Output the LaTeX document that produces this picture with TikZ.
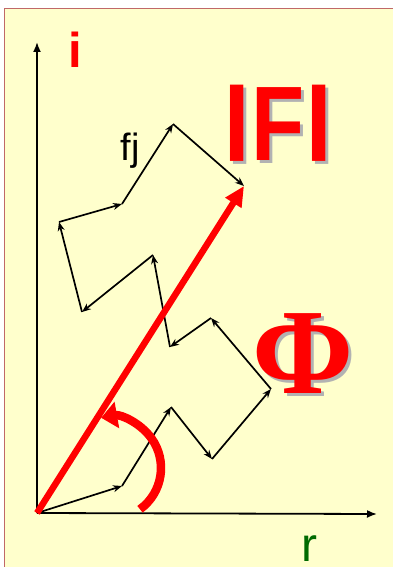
\documentclass[tikz,border=0pt]{standalone}
\usepackage{fontspec}
\setmainfont{Liberation Serif}
\setsansfont{Liberation Sans}
\usetikzlibrary{arrows.meta,calc}
\definecolor{paper}{HTML}{FFFFCC}
\definecolor{frame}{HTML}{C06868}
\definecolor{hot}{HTML}{FF0000}
\definecolor{leaf}{HTML}{006A00}
\tikzset{axis/.style={line width=1.8pt,-{Latex[length=10pt,width=8pt]}},
  hop/.style={line width=1.7pt,line join=round,-{Stealth[length=9pt,width=7pt]}},
  shade/.style={black!30}}
\newcommand{\fbar}{\raisebox{0.16em}{\scalebox{1.2}[0.76]{|}}}
\newcommand{\castlabel}[4]{%
  \node[shade,font=#3,anchor=base] at ($(#2)+(3,3)$) {#4};
  \node[hot,font=#3,anchor=base] (#1) at (#2) {#4};}
\begin{document}
\begin{tikzpicture}[x=1pt,y=-1pt]
  \useasboundingbox (0,0) rectangle (392,567);
  \fill[white] (0,0) rectangle (392,567);
  \draw[frame,fill=paper,line width=1pt] (4.5,8.5) rectangle (400,580);
  % axes
  \coordinate (o) at (37,513);
  \coordinate (itop) at (37,42);
  \coordinate (rend) at (377,514);
  \draw[axis] (o) -- (itop);
  \draw[axis] (o) -- (rend);
  % chain of partial amplitudes
  \coordinate (c1) at (122,486);
  \coordinate (c2) at (171,407);
  \coordinate (c3) at (212,459);
  \coordinate (c4) at (271,389);
  \coordinate (c5) at (211,318);
  \coordinate (c6) at (170,347);
  \coordinate (c7) at (153,255);
  \coordinate (c8) at (82,312);
  \coordinate (c9) at (59,222);
  \coordinate (c10) at (122,204);
  \coordinate (c11) at (173,124);
  \coordinate (c12) at (244,186);
  \draw[hop] (o) -- (c1);
  \draw[hop] (c1) -- (c2);
  \draw[hop] (c2) -- (c3);
  \draw[hop] (c3) -- (c4);
  \draw[hop] (c4) -- (c5);
  \draw[hop] (c5) -- (c6);
  \draw[hop] (c6) -- (c7);
  \draw[hop] (c7) -- (c8);
  \draw[hop] (c8) -- (c9);
  \draw[hop] (c9) -- (c10);
  \draw[hop] (c10) -- (c11);
  \draw[hop] (c11) -- (c12);
  % resultant and phase
  \draw[hot,line width=6.5pt,-{Triangle[length=20pt,width=18pt]}] (o) -- (c12);
  \coordinate (phc) at (110,468);
  \draw[hot,line width=8.5pt,-{Triangle[length=16pt,width=26pt]}]
    ($(phc)+(54:51)$) arc[start angle=54,end angle=-100,radius=51];
  % labels
  \node[hot,font=\sffamily\bfseries\fontsize{49}{49}\selectfont,anchor=base] (ilab) at (75.5,68) {i};
  \node[font=\sffamily\fontsize{38}{38}\selectfont,anchor=base] (fjlab) at (130,160) {fj};
  \node[leaf,font=\sffamily\fontsize{48}{48}\selectfont,anchor=base,inner sep=0pt] (rlab) at (309.5,561) {r};
  \castlabel{flab}{278,160}{\sffamily\bfseries\fontsize{106}{106}\selectfont}{\scalebox{0.82}[1]{\fbar F\fbar}}
  \castlabel{philab}{303,393}{\rmfamily\bfseries\fontsize{122}{122}\selectfont}{Φ}
\end{tikzpicture}
\end{document}
